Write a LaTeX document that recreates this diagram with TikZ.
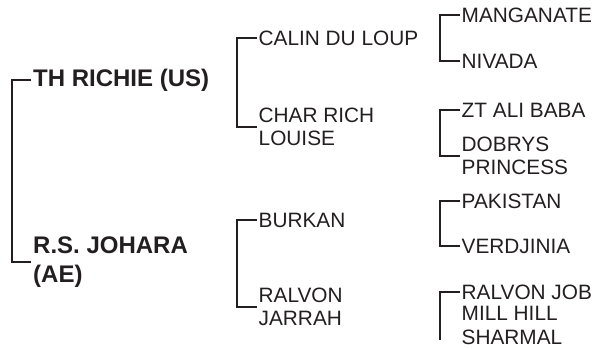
\documentclass[tikz,border=0pt]{standalone}
\usepackage{fontspec}
\setmainfont{Liberation Sans}
\definecolor{ink}{HTML}{231F20}
\begin{document}
\begin{tikzpicture}[x=1pt,y=-1pt,
  link/.style={draw=ink,line width=2.3pt,line join=miter},
  lvl/.style={anchor=west,inner sep=0pt,text=ink,align=left},
  big/.style={lvl,font=\fontsize{24}{28.5}\selectfont\bfseries},
  reg/.style={lvl,font=\fontsize{20.8}{23.5}\selectfont}]
\useasboundingbox (0,0) rectangle (601,348);
% level 1
\node[big] (a) at (33,80) {TH RICHIE (US)};
\node[big] (b) at (33,262) {R.S. JOHARA\\(AE)};
% level 2
\node[reg] (c1) at (258.5,38) {CALIN DU LOUP};
\node[reg] (c2) at (258.5,127) {CHAR RICH\\LOUISE};
\node[reg] (c3) at (258.5,220) {BURKAN};
\node[reg] (c4) at (258.5,307) {RALVON\\JARRAH};
% level 3
\node[reg] (d1) at (461.5,15) {MANGANATE};
\node[reg] (d2) at (461.5,61) {NIVADA};
\node[reg] (d3) at (461.5,110) {ZT ALI BABA};
\node[reg] (d4) at (461.5,156) {DOBRYS\\PRINCESS};
\node[reg] (d5) at (461.5,201) {PAKISTAN};
\node[reg] (d6) at (461.5,246) {VERDJINIA};
\node[reg] (d7) at (461.5,292) {RALVON JOB};
\node[reg] (d8) at (461.5,325.5) {MILL HILL\\SHARMAL};
\coordinate (d8end) at (440,340);
% brackets
\draw[link] ([xshift=-2pt]a.west) -- ++(-19,0) |- ([xshift=-2pt]b.west);
\draw[link] ([xshift=-1.5pt]c1.west) -- ++(-20,0) |- ([xshift=-1.5pt]c2.west);
\draw[link] ([xshift=-1.5pt]c3.west) -- ++(-20,0) |- ([xshift=-1.5pt]c4.west);
\draw[link] ([xshift=-1.5pt]d1.west) -- ++(-20,0) |- ([xshift=-1.5pt]d2.west);
\draw[link] ([xshift=-1.5pt]d3.west) -- ++(-20,0) |- ([xshift=-1.5pt]d4.west);
\draw[link] ([xshift=-1.5pt]d5.west) -- ++(-20,0) |- ([xshift=-1.5pt]d6.west);
\draw[link] ([xshift=-1.5pt]d7.west) -| (d8end);
\end{tikzpicture}
\end{document}
